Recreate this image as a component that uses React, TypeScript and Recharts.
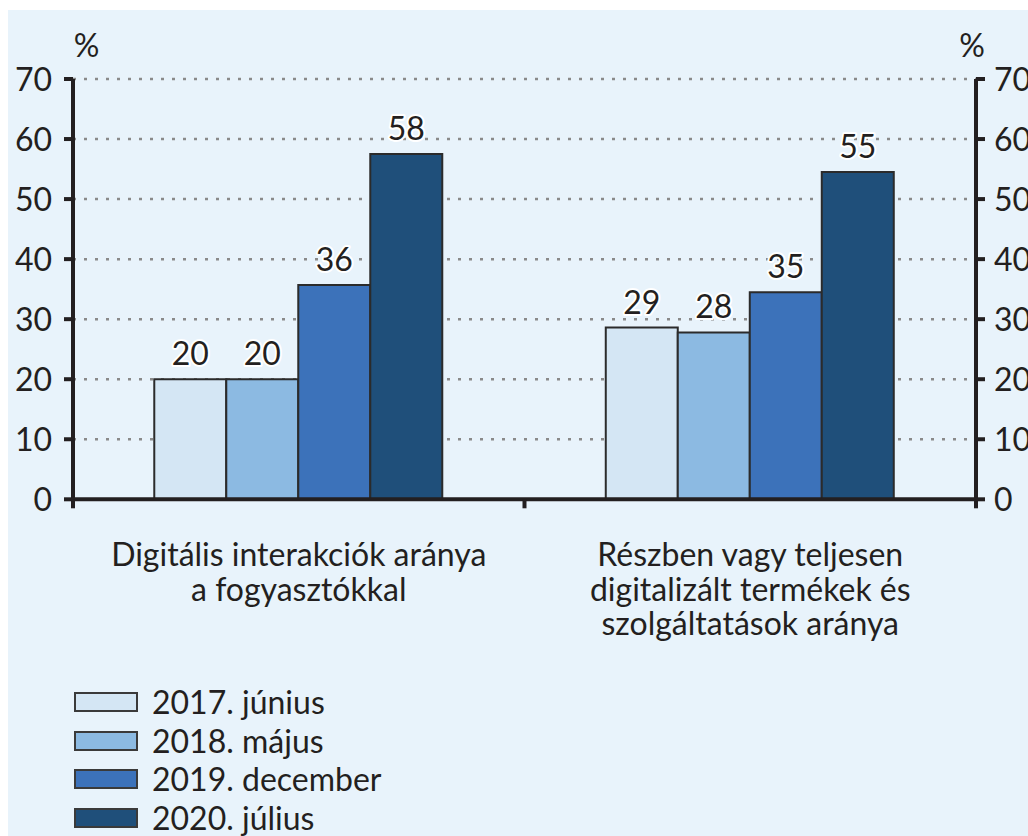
import React from "react";
import { BarChart, Bar, XAxis, YAxis, CartesianGrid, Legend, LabelList } from "recharts";

const categories = [
  "Digitális interakciók aránya a fogyasztókkal",
  "Részben vagy teljesen digitalizált termékek és szolgáltatások aránya",
];
const categoryLines = [
  ["Digitális interakciók aránya", "a fogyasztókkal"],
  ["Részben vagy teljesen", "digitalizált termékek és", "szolgáltatások aránya"],
];
const seriesNames = ["2017. június", "2018. május", "2019. december", "2020. július"];
const jun2017 = [20, 28.6];
const maj2018 = [20, 27.8];
const dec2019 = [35.7, 34.5];
const jul2020 = [57.5, 54.5];
const yTicks = [0, 10, 20, 30, 40, 50, 60, 70];
const edgeTicks = [0, 1, 2];

const colors = ["#D4E6F4", "#8CBAE2", "#3C72BA", "#1F4F7A"];
const seriesKeys = ["s0", "s1", "s2", "s3"];
const seriesValues = [jun2017, maj2018, dec2019, jul2020];

const data = categories.map((c, i) => {
  const row: any = { category: c, slot: i + 0.5 };
  seriesKeys.forEach((k, j) => {
    row[k] = seriesValues[j][i];
  });
  return row;
});

const TEXT = "#231F20";
const AXIS = "#231F20";
const FONT = "Lato, 'Open Sans', sans-serif";
const FS = 32;

const LeftTick = (props: any) => {
  const { x, y, payload } = props;
  return (
    <g>
      <text x={x} y={y} dy="0.36em" textAnchor="end" fontSize={FS} fill={TEXT} fontFamily={FONT}>
        {payload.value}
      </text>
      {payload.value === 70 && (
        <text x={x + 34.5} y={y - 22} textAnchor="middle" fontSize={FS} fill={TEXT} fontFamily={FONT}>
          %
        </text>
      )}
    </g>
  );
};

const RightTick = (props: any) => {
  const { x, y, payload } = props;
  return (
    <g>
      <text x={x} y={y} dy="0.36em" textAnchor="start" fontSize={FS} fill={TEXT} fontFamily={FONT}>
        {payload.value}
      </text>
      {payload.value === 70 && (
        <text x={x - 22} y={y - 22} textAnchor="middle" fontSize={FS} fill={TEXT} fontFamily={FONT}>
          %
        </text>
      )}
    </g>
  );
};

const EmptyTick = () => <g />;

const CatTick = (props: any) => {
  const { x, y, payload } = props;
  const idx = categories.indexOf(payload.value);
  const lines = idx >= 0 ? categoryLines[idx] : [String(payload.value)];
  return (
    <text x={x} y={y} textAnchor="middle" fontSize={FS} fill={TEXT} fontFamily={FONT}>
      {lines.map((l, i) => (
        <tspan key={i} x={x} dy={i === 0 ? 30 : 34.5}>
          {l}
        </tspan>
      ))}
    </text>
  );
};

const renderLabel = (props: any) => {
  const { x, y, width, value } = props;
  return (
    <text
      x={Number(x) + Number(width) / 2}
      y={Number(y) - 14}
      textAnchor="middle"
      fontSize={FS}
      fill={TEXT}
      fontFamily={FONT}
      stroke="#ffffff"
      strokeWidth={4}
      strokeLinejoin="round"
      paintOrder="stroke"
    >
      {Math.round(Number(value))}
    </text>
  );
};

const renderLegend = (props: any) => {
  const payload = props.payload && props.payload.length ? props.payload : seriesNames.map((n) => ({ value: n }));
  return (
    <div style={{ display: "flex", flexDirection: "column" }}>
      {payload.map((it: any, i: number) => (
        <div key={i} style={{ display: "flex", alignItems: "center", height: 38.5 }}>
          <span
            style={{
              display: "inline-block",
              width: 64,
              height: 20,
              boxSizing: "border-box",
              border: "2px solid #3a3a3a",
              background: colors[i],
            }}
          />
          <span style={{ marginLeft: 14, fontSize: FS, color: TEXT, fontFamily: FONT, lineHeight: "38.5px" }}>
            {it.value}
          </span>
        </div>
      ))}
    </div>
  );
};

export default function App() {
  return (
    <div
      style={{
        position: "absolute",
        left: 8,
        top: 10,
        width: 1020,
        height: 826,
        background: "#E8F3FB",
        fontFamily: FONT,
      }}
    >
      <BarChart
        width={1020}
        height={826}
        data={data}
        margin={{ top: 69, right: 0, bottom: 0, left: 0 }}
        barCategoryGap="18%"
        barGap={0}
        style={{ fontFamily: FONT }}
      >
        <CartesianGrid
          xAxisId="b_cat"
          yAxisId="left"
          vertical={false}
          stroke="#8a8a8a"
          strokeWidth={2.5}
          strokeDasharray="3 8"
        />
        <XAxis
          xAxisId="b_cat"
          dataKey="category"
          type="category"
          height={299.7}
          axisLine={false}
          tickLine={false}
          tickSize={0}
          tickMargin={0}
          interval={0}
          tick={<CatTick />}
        />
        <XAxis
          xAxisId="a_edge"
          type="number"
          dataKey="slot"
          domain={[0, 2]}
          ticks={edgeTicks}
          allowDataOverflow
          interval={0}
          height={37}
          tick={<EmptyTick />}
          tickSize={9}
          axisLine={{ stroke: AXIS, strokeWidth: 4 }}
          tickLine={{ stroke: AXIS, strokeWidth: 4 }}
        />
        <YAxis
          yAxisId="left"
          orientation="left"
          width={65}
          domain={[0, 70]}
          ticks={yTicks}
          interval={0}
          tickSize={9}
          tickMargin={12}
          axisLine={{ stroke: AXIS, strokeWidth: 4 }}
          tickLine={{ stroke: AXIS, strokeWidth: 4 }}
          tick={<LeftTick />}
        />
        <YAxis
          yAxisId="right"
          orientation="right"
          dataKey="s3"
          width={52}
          domain={[0, 70]}
          allowDataOverflow
          ticks={yTicks}
          interval={0}
          tickSize={9}
          tickMargin={9}
          axisLine={{ stroke: AXIS, strokeWidth: 4 }}
          tickLine={{ stroke: AXIS, strokeWidth: 4 }}
          tick={<RightTick />}
        />
        <Legend
          layout="vertical"
          align="center"
          verticalAlign="middle"
          wrapperStyle={{ left: 66, top: 673, width: 420, height: 154 }}
          content={renderLegend}
        />
        {seriesKeys.map((k, i) => (
          <Bar
            key={k}
            dataKey={k}
            name={seriesNames[i]}
            xAxisId="b_cat"
            yAxisId="left"
            fill={colors[i]}
            stroke="#2b2b2b"
            strokeWidth={2}
            isAnimationActive={false}
          >
            <LabelList dataKey={k} content={renderLabel} />
          </Bar>
        ))}
      </BarChart>
    </div>
  );
}
